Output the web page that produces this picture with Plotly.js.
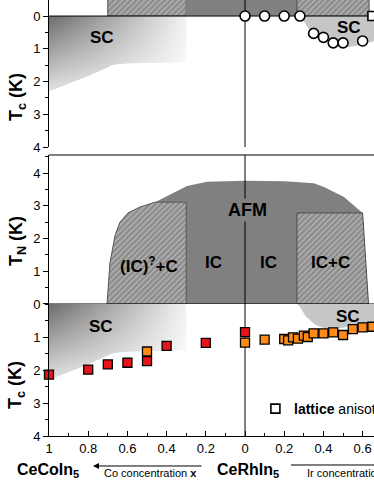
<!DOCTYPE html>
<html>
<head>
<meta charset="utf-8">
<script src="https://cdn.plot.ly/plotly-3.0.1.min.js"></script>
<style>
  html, body { margin: 0; padding: 0; background: #fff; }
  #chart { width: 374px; height: 484px; }
</style>
</head>
<body>
<div id="chart"></div>
<script>
// Co side is plotted as negative x (x = -Co concentration), Ir side as positive x

// x axis tick labels
const xTickVals = [-1, -0.8, -0.6, -0.4, -0.2, 0, 0.2, 0.4, 0.6];
const xTickText = ['1', '0.8', '0.6', '0.4', '0.2', '0', '0.2', '0.4', '0.6'];
const xMinorVals = [-0.9, -0.7, -0.5, -0.3, -0.1, 0.1, 0.3, 0.5];

// SC dome on the Co side (Tc boundary)
const scCoX = [-1, -0.3, -0.3, -0.6, -0.67, -0.72, -0.8, -0.9, -1];
const scCoY = [0, 0, 1.40, 1.44, 1.48, 1.62, 1.82, 2.05, 2.28];

// top panel: phases above Tc = 0 (cut off)
const topHatchLeftX = [-0.7, -0.3, -0.3, -0.7, -0.7];
const topHatchLeftY = [0, 0, -0.7, -0.7, 0];
const topAfmX = [-0.3, 0.265, 0.265, -0.3, -0.3];
const topAfmY = [0, 0, -0.7, -0.7, 0];
const topHatchRightX = [0.265, 0.633, 0.633, 0.265, 0.265];
const topHatchRightY = [0, 0, -0.7, -0.7, 0];

// top panel: SC on Ir side and open circles
const topScIrX = [0.28, 0.30, 0.32, 0.34, 0.37, 0.41, 0.46, 0.52, 0.58, 0.62, 0.70, 0.70];
const topScIrY = [0, 0.15, 0.35, 0.50, 0.66, 0.76, 0.88, 0.95, 0.90, 0.82, 0.72, 0];
const circleX = [0, 0.1, 0.2, 0.28, 0.35, 0.4, 0.45, 0.5, 0.6];
const circleTc = [0, 0, 0, 0, 0.53, 0.65, 0.82, 0.82, 0.76];
const topSquareX = [0.65];
const topSquareTc = [0];

// middle panel: T_N phases
const afmX = [-0.704, -0.689, -0.663, -0.638, -0.597, -0.536, -0.459, -0.296, -0.194, 0, 0.2, 0.352, 0.403, 0.505, 0.6, 0.63, -0.704];
const afmY = [0, 1.25, 2.1, 2.5, 2.78, 2.96, 3.11, 3.6, 3.73, 3.76, 3.75, 3.69, 3.57, 3.27, 2.78, 0, 0];
const icCX = [-0.704, -0.689, -0.663, -0.638, -0.597, -0.536, -0.459, -0.3, -0.3, -0.704];
const icCY = [0, 1.25, 2.1, 2.5, 2.78, 2.96, 3.11, 3.11, 0, 0];
const icPlusCX = [0.265, 0.6, 0.63, 0.265, 0.265];
const icPlusCY = [2.78, 2.78, 0, 0, 2.78];

// bottom panel: SC on Ir side
const botScIrX = [0.265, 0.28, 0.31, 0.36, 0.41, 0.5, 0.58, 0.70, 0.70];
const botScIrY = [0, 0.08, 0.38, 0.64, 0.74, 0.72, 0.62, 0.58, 0];

// bottom panel: Tc data
const coX = [-1, -0.8, -0.7, -0.6, -0.5, -0.4, -0.2, 0];
const coTc = [2.14, 1.99, 1.83, 1.78, 1.73, 1.27, 1.18, 0.85];
const irX = [-0.5, 0, 0.1, 0.2, 0.22, 0.245, 0.27, 0.3, 0.32, 0.35, 0.4, 0.45, 0.5, 0.55, 0.6, 0.65];
const irTc = [1.44, 1.17, 1.08, 1.06, 1.1, 1.01, 1.05, 0.96, 1.0, 0.89, 0.89, 0.86, 0.94, 0.76, 0.71, 0.69];
const legendX = [0.155];
const legendTc = [3.17];

// reference lines
const zeroLineX = [-1.2, 1];
const zeroLineY = [0, 0];
const centerLineX = [0, 0];

const FONT = 'Arial, "Liberation Sans", sans-serif';
const hatch = {shape: '/', bgcolor: '#8c8c8c', fgcolor: '#b6b6b6', size: 4, solidity: 0.35};
const gradMain = {type: 'horizontal', colorscale: [[0, '#6b6b6b'], [1, '#f2f2f2']]};
const gradFade = {type: 'vertical', colorscale: [[0, 'rgba(255,255,255,0.8)'], [1, 'rgba(255,255,255,0)']]};

function area(x, y, yaxis, extra) {
    return Object.assign({
        type: 'scatter', mode: 'lines', x: x, y: y, yaxis: yaxis,
        fill: 'toself', line: {width: 0}, hoverinfo: 'skip', showlegend: false
    }, extra);
}

function refLine(x, y, yaxis) {
    return {type: 'scatter', mode: 'lines', x: x, y: y, yaxis: yaxis,
        line: {color: '#000', width: 1}, hoverinfo: 'skip', showlegend: false};
}

function squares(x, y, color) {
    return {type: 'scatter', mode: 'markers', x: x, y: y, yaxis: 'y',
        marker: {symbol: 'square', size: 9, color: color, line: {color: '#000', width: 1.3}},
        cliponaxis: false, hoverinfo: 'skip', showlegend: false};
}

const data = [
    // top panel
    area(topHatchLeftX, topHatchLeftY, 'y3', {fillpattern: hatch, line: {color: '#4d4d4d', width: 1}}),
    area(topAfmX, topAfmY, 'y3', {fillcolor: '#808080'}),
    area(topHatchRightX, topHatchRightY, 'y3', {fillpattern: hatch, line: {color: '#4d4d4d', width: 1}}),
    area(scCoX, scCoY, 'y3', {fillgradient: gradMain}),
    area(scCoX, scCoY, 'y3', {fillgradient: gradFade}),
    area(topScIrX, topScIrY, 'y3', {fillcolor: '#c6c6c6'}),
    refLine(zeroLineX, zeroLineY, 'y3'),
    refLine(centerLineX, [-1, 5], 'y3'),
    {type: 'scatter', mode: 'markers', x: circleX, y: circleTc, yaxis: 'y3',
        marker: {symbol: 'circle', size: 10, color: '#fff', line: {color: '#000', width: 1.6}},
        hoverinfo: 'skip', showlegend: false},
    {type: 'scatter', mode: 'markers', x: topSquareX, y: topSquareTc, yaxis: 'y3',
        marker: {symbol: 'square', size: 9, color: '#fff', line: {color: '#000', width: 1.6}},
        hoverinfo: 'skip', showlegend: false},

    // middle panel (T_N)
    area(afmX, afmY, 'y2', {fillcolor: '#808080'}),
    area(icCX, icCY, 'y2', {fillpattern: hatch, line: {color: '#5a5a5a', width: 1}}),
    area(icPlusCX, icPlusCY, 'y2', {fillpattern: hatch, line: {color: '#4d4d4d', width: 1}}),
    refLine(zeroLineX, zeroLineY, 'y2'),
    refLine(centerLineX, [0, 5], 'y2'),

    // bottom panel (Tc)
    area(scCoX, scCoY, 'y', {fillgradient: gradMain}),
    area(scCoX, scCoY, 'y', {fillgradient: gradFade}),
    area(botScIrX, botScIrY, 'y', {fillcolor: '#c6c6c6'}),
    refLine(centerLineX, [0, 5], 'y'),
    squares(irX, irTc, '#ff8c1a'),
    squares(coX, coTc, '#e8141c'),
    {type: 'scatter', mode: 'markers', x: legendX, y: legendTc, yaxis: 'y',
        marker: {symbol: 'square', size: 9, color: '#fff', line: {color: '#000', width: 1.6}},
        hoverinfo: 'skip', showlegend: false}
];

const tickFont = {family: FONT, size: 13, color: '#000'};
const yCommon = {
    anchor: 'x', showline: true, linecolor: '#000', linewidth: 1, zeroline: false, showgrid: false,
    ticks: 'outside', ticklen: 5, tickcolor: '#000', tickfont: tickFont, tickmode: 'array',
    minor: {dtick: 0.5, ticks: 'outside', ticklen: 3, tickcolor: '#000'}
};
const xCommon = {
    range: [-1, 0.658], showline: true, linecolor: '#000', linewidth: 1, zeroline: false, showgrid: false,
    ticks: 'inside', ticklen: 5, tickcolor: '#000', tickfont: tickFont,
    tickmode: 'array', tickvals: xTickVals, ticktext: xTickText,
    minor: {tickmode: 'array', tickvals: xMinorVals, ticks: 'inside', ticklen: 3, tickcolor: '#000'}
};

function label(text, x, y, yref, size, extra) {
    return Object.assign({text: text, x: x, y: y, xref: 'x', yref: yref, showarrow: false,
        xanchor: 'center', yanchor: 'middle',
        font: {family: FONT, size: size, color: '#000'}}, extra);
}
function paperText(text, x, y, size, extra) {
    return Object.assign({text: text, x: x, y: y, xref: 'paper', yref: 'paper', showarrow: false,
        xanchor: 'center', yanchor: 'middle',
        font: {family: FONT, size: size, color: '#000'}}, extra);
}

const layout = {
    width: 374, height: 484,
    margin: {l: 49, r: 0, t: 0, b: 48},
    paper_bgcolor: '#fff', plot_bgcolor: 'rgba(0,0,0,0)',
    showlegend: false,
    xaxis: Object.assign({anchor: 'y'}, xCommon),
    xaxis2: Object.assign({anchor: 'y3', matches: 'x', showticklabels: false}, xCommon),
    yaxis: Object.assign({}, yCommon, {domain: [0, 0.30275], range: [4, 0], tickvals: [1, 2, 3, 4]}),
    yaxis2: Object.assign({}, yCommon, {domain: [0.30275, 0.6445], range: [0, 4.55], tickvals: [0, 1, 2, 3, 4]}),
    yaxis3: Object.assign({}, yCommon, {domain: [0.6628, 1], range: [4, -0.49], tickvals: [0, 1, 2, 3, 4]}),
    shapes: [
        // top frame of the T_N panel
        {type: 'line', xref: 'paper', yref: 'paper', x0: 0, x1: 1, y0: 0.6445, y1: 0.6445,
            line: {color: '#000', width: 1}},
        // line to the Ir side
        {type: 'line', xref: 'paper', yref: 'paper', x0: 0.7446, x1: 1.05, y0: -0.0665, y1: -0.0665,
            line: {color: '#000', width: 1}}
    ],
    annotations: [
        label('<b>SC</b>', -0.73, 0.64, 'y3', 17),
        label('<b>SC</b>', 0.53, 0.34, 'y3', 17),
        label('<b>(IC)<sup>?</sup>+C</b>', -0.49, 1.2, 'y2', 17),
        label('<b>IC</b>', -0.16, 1.26, 'y2', 17),
        label('<b>IC</b>', 0.122, 1.26, 'y2', 17),
        label('<b>IC+C</b>', 0.436, 1.26, 'y2', 17),
        label('<b>AFM</b>', 0.013, 2.87, 'y2', 18, {bgcolor: '#808080', borderpad: 1}),
        label('<b>SC</b>', -0.737, 0.67, 'y', 17),
        label('<b>SC</b>', 0.525, 0.38, 'y', 17),
        label('<b>lattice</b> anisotropy', 0.24, 3.17, 'y', 14, {xanchor: 'left'}),

        paperText('<b>T<sub>c</sub> (K)</b>', -0.0985, 0.7775, 18, {textangle: -90}),
        paperText('<b>T<sub>N</sub> (K)</b>', -0.0985, 0.447, 18, {textangle: -90}),
        paperText('<b>T<sub>c</sub> (K)</b>', -0.0985, 0.117, 18, {textangle: -90}),

        paperText('<b>CeCoIn<sub>5</sub></b>', -0.003, -0.078, 16),
        paperText('<b>CeRhIn<sub>5</sub></b>', 0.6138, -0.078, 16),
        {text: '', x: 0.1354, y: -0.0688, xref: 'paper', yref: 'paper', ax: 110, ay: 0,
            showarrow: true, arrowhead: 2, arrowsize: 1.2, arrowwidth: 1, arrowcolor: '#000', standoff: 0},
        paperText('Co concentration <b>x</b>', 0.3108, -0.0849, 11),
        paperText('Ir concentration <b>x</b>', 0.7877, -0.0849, 11, {xanchor: 'left'})
    ]
};

Plotly.newPlot('chart', data, layout, {staticPlot: true, displayModeBar: false});
</script>
</body>
</html>
